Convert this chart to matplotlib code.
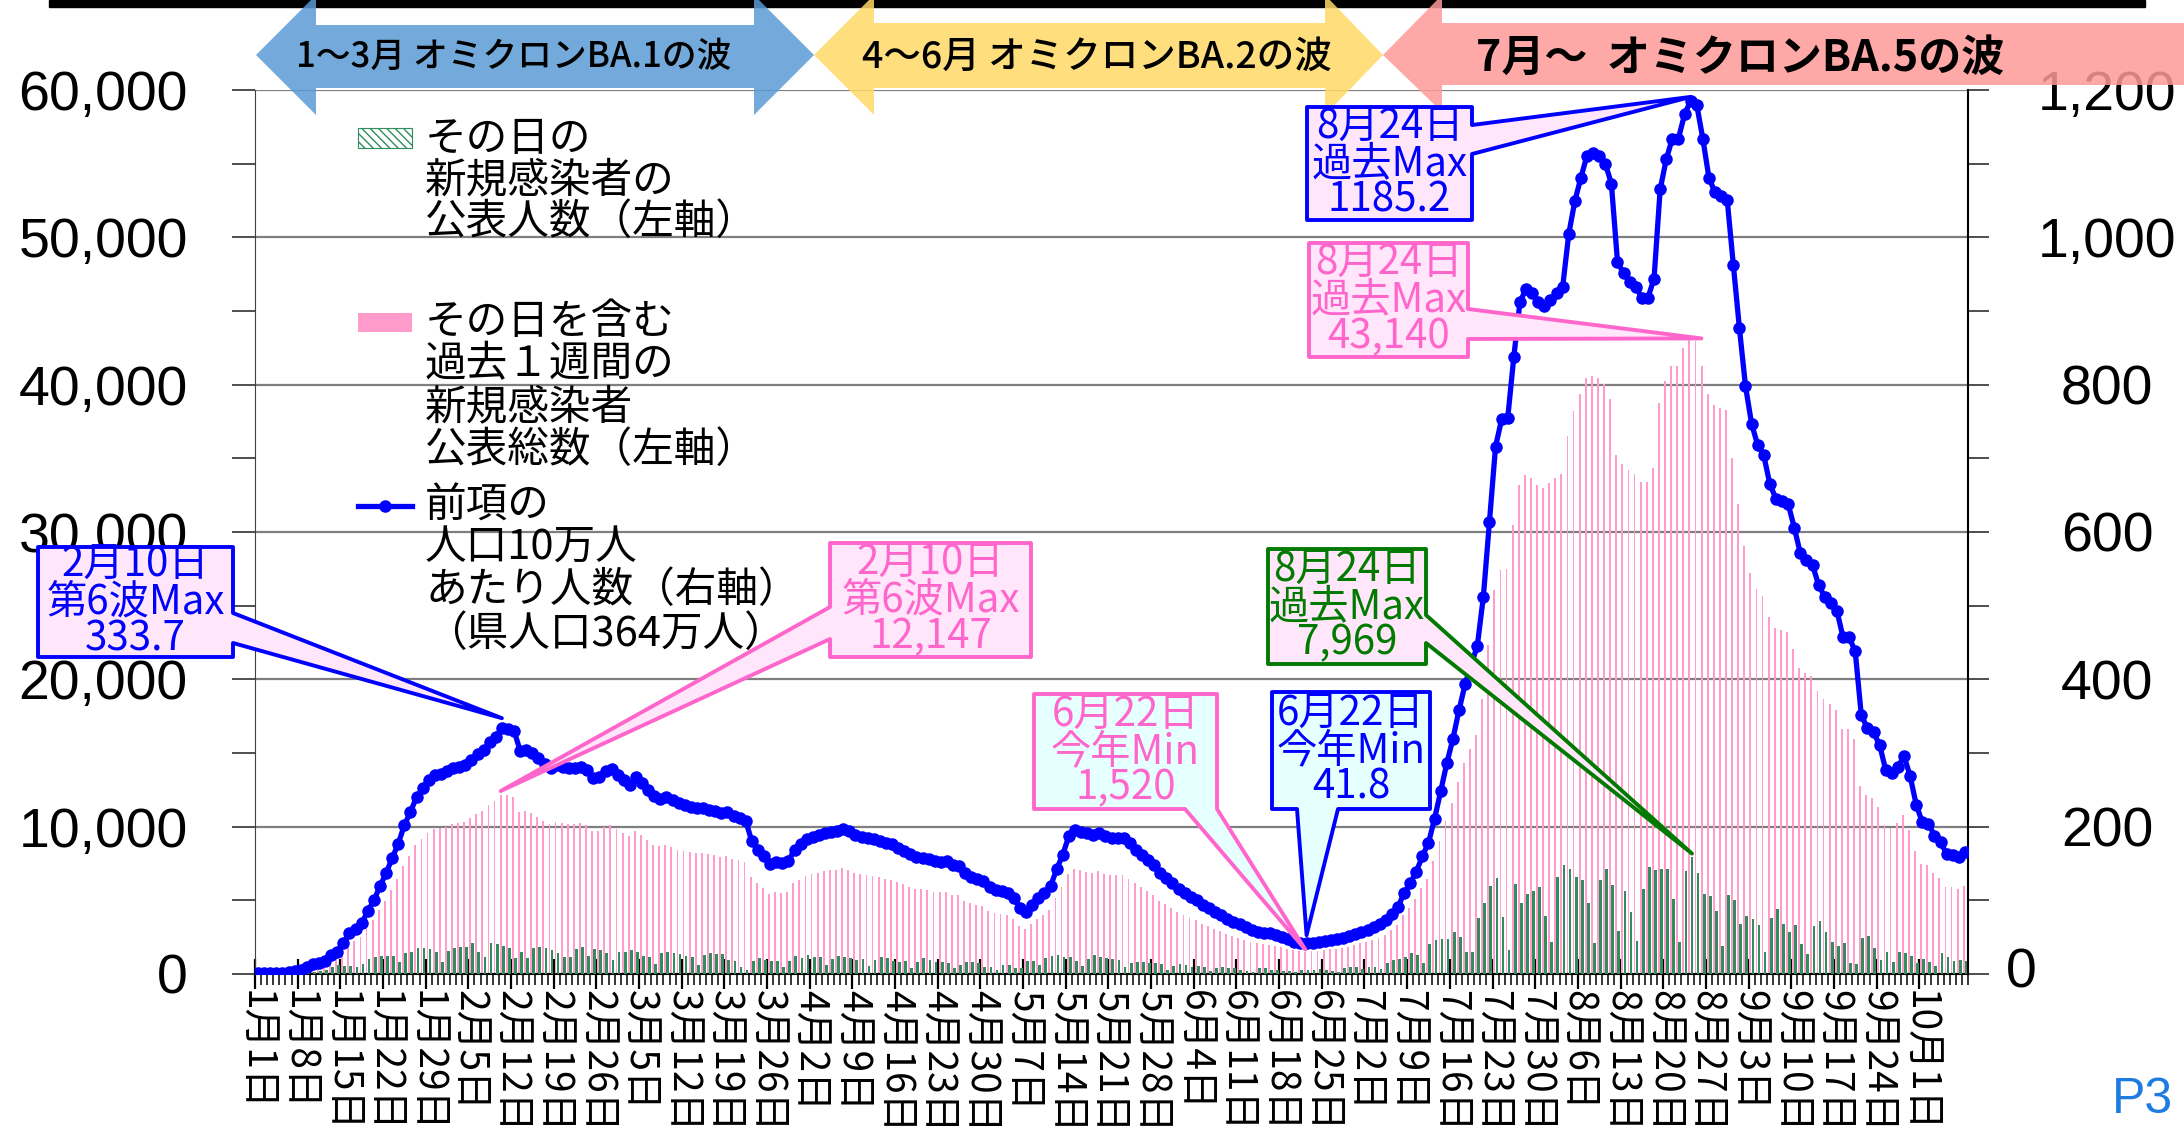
import numpy as np
import matplotlib.pyplot as plt
from matplotlib.patches import Polygon, Rectangle
from matplotlib.lines import Line2D
from matplotlib.transforms import IdentityTransform

plt.rcParams['font.family'] = ['Noto Sans CJK JP', 'DejaVu Sans']

W, H = 2184, 1139

# その日の新規感染者の公表人数 (1/1 .. 10/8, left axis)
daily = [
    40, 50, 60, 40, 60, 80, 100, 90, 120, 160,
    200, 270, 500, 610, 540, 540, 500, 680, 990, 1130,
    1240, 1240, 1240, 840, 1450, 1510, 1740, 1740, 1670, 1470,
    840, 1580, 1740, 1810, 1850, 2120, 1510, 1130, 2120, 2010,
    1900, 1790, 1110, 1510, 1060, 1740, 1810, 1790, 1630, 1400,
    1180, 1130, 1670, 1850, 1240, 1670, 1630, 1400, 950, 1470,
    1490, 1630, 1470, 1240, 1180, 680, 1400, 1510, 1450, 1360,
    1240, 1130, 620, 1300, 1410, 1370, 1370, 980, 910, 460,
    300, 910, 1070, 980, 910, 870, 500, 910, 1210, 1070,
    1300, 1140, 1140, 620, 1030, 1190, 1140, 1090, 980, 1030,
    520, 980, 1140, 1070, 910, 840, 870, 390, 840, 1070,
    980, 800, 840, 730, 390, 640, 800, 800, 730, 460,
    500, 300, 620, 620, 390, 390, 910, 910, 620, 1070,
    1210, 1300, 1140, 1140, 910, 520, 1030, 1300, 1140, 1070,
    1030, 980, 460, 730, 840, 800, 730, 780, 680, 270,
    520, 680, 620, 460, 520, 460, 180, 390, 460, 390,
    390, 300, 180, 110, 390, 390, 300, 300, 230, 230,
    110, 300, 300, 300, 340, 300, 230, 160, 390, 460,
    460, 340, 460, 460, 320, 770, 950, 990, 1130, 1400,
    1290, 720, 2030, 2300, 2350, 2350, 2830, 2530, 1510, 1510,
    3820, 4790, 5970, 6530, 3840, 1630, 6100, 4790, 5420, 5650,
    5880, 3930, 2150, 6600, 7390, 7120, 6600, 6370, 4790, 2080,
    6370, 7160, 6030, 2920, 5630, 4180, 2240, 5760, 7230, 7050,
    7160, 7160, 5090, 2150, 7010, 7969, 6870, 5420, 5290, 4270,
    1920, 5360, 5020, 3370, 3930, 3730, 3320, 1470, 3820, 4410,
    3370, 2830, 3320, 2010, 1330, 3250, 3590, 2830, 2190, 1920,
    2080, 720, 660, 2420, 2580, 1740, 950, 1510, 840, 1470,
    1400, 1220, 720, 1020, 840, 570, 1400, 1130, 900, 930,
    850,
]

# その日を含む過去1週間の公表総数 (left axis)
weekly = [
    36, 36, 36, 73, 73, 109, 146, 218, 364, 510,
    546, 619, 946, 1092, 1529, 2038, 2220, 2512, 3094, 3640,
    4332, 4987, 5715, 6443, 7353, 8008, 8736, 9173, 9573, 9828,
    9901, 10010, 10156, 10228, 10338, 10556, 10884, 11066, 11466, 11721,
    12147, 12121, 12012, 11029, 11066, 10920, 10665, 10374, 10156, 10338,
    10228, 10192, 10192, 10228, 10083, 9682, 9719, 10010, 10119, 9828,
    9573, 9355, 9719, 9428, 9100, 8772, 8663, 8736, 8590, 8445,
    8336, 8263, 8226, 8190, 8117, 8044, 7972, 8008, 7826, 7717,
    7571, 6552, 6152, 5824, 5460, 5533, 5496, 5569, 6152, 6406,
    6661, 6770, 6880, 6989, 7025, 7062, 7171, 7062, 6880, 6770,
    6698, 6661, 6552, 6479, 6406, 6224, 6079, 5933, 5788, 5751,
    5678, 5569, 5533, 5569, 5387, 5351, 4987, 4805, 4696, 4586,
    4295, 4150, 4077, 4004, 3749, 3240, 3058, 3422, 3749, 4004,
    4332, 5169, 5897, 6807, 7134, 7025, 6952, 6880, 6989, 6807,
    6734, 6734, 6698, 6479, 6152, 5897, 5642, 5387, 4987, 4732,
    4477, 4222, 4004, 3822, 3640, 3422, 3240, 3058, 2912, 2730,
    2584, 2475, 2330, 2184, 2075, 2038, 2002, 1929, 1820, 1711,
    1602, 1547, 1520, 1529, 1565, 1638, 1674, 1711, 1784, 1856,
    1966, 2075, 2184, 2330, 2475, 2657, 2985, 3312, 4004, 4477,
    5060, 5824, 6479, 7680, 9027, 10410, 11612, 13031, 14305, 15288,
    16198, 18637, 22350, 26062, 27409, 27482, 30503, 33197, 33852, 33634,
    33197, 33015, 33306, 33634, 33925, 36546, 38184, 39348, 40440, 40586,
    40440, 40040, 39057, 35199, 34616, 34216, 33961, 33415, 33415, 34362,
    38766, 40258, 41278, 41278, 42479, 43140, 42952, 41278, 39348, 38620,
    38438, 38256, 35053, 31923, 29047, 27191, 26135, 25626, 24206, 23478,
    23369, 23223, 22058, 20784, 20457, 20202, 19219, 18637, 18346, 17945,
    16635, 16635, 15943, 12776, 12158, 11939, 11320, 10083, 9937, 10228,
    10774, 9792, 8372, 7498, 7426, 6843, 6516, 5933, 5897, 5788,
    6006,
]

# 人口10万人あたり人数 (right axis)
per100k = [
    1, 1, 1, 2, 2, 3, 4, 6, 10, 14,
    15, 17, 26, 30, 42, 56, 61, 69, 85, 100,
    119, 137, 157, 177, 202, 220, 240, 252, 263, 270,
    272, 275, 279, 281, 284, 290, 299, 304, 315, 322,
    333.7, 333, 330, 303, 304, 300, 293, 285, 279, 284,
    281, 280, 280, 281, 277, 266, 267, 275, 278, 270,
    263, 257, 267, 259, 250, 241, 238, 240, 236, 232,
    229, 227, 226, 225, 223, 221, 219, 220, 215, 212,
    208, 180, 169, 160, 150, 152, 151, 153, 169, 176,
    183, 186, 189, 192, 193, 194, 197, 194, 189, 186,
    184, 183, 180, 178, 176, 171, 167, 163, 159, 158,
    156, 153, 152, 153, 148, 147, 137, 132, 129, 126,
    118, 114, 112, 110, 103, 89, 84, 94, 103, 110,
    119, 142, 162, 187, 196, 193, 191, 189, 192, 187,
    185, 185, 184, 178, 169, 162, 155, 148, 137, 130,
    123, 116, 110, 105, 100, 94, 89, 84, 80, 75,
    71, 68, 64, 60, 57, 56, 55, 53, 50, 47,
    44, 42.5, 41.8, 42, 43, 45, 46, 47, 49, 51,
    54, 57, 60, 64, 68, 73, 82, 91, 110, 123,
    139, 160, 178, 211, 248, 286, 319, 358, 393, 420,
    445, 512, 614, 716, 753, 755, 838, 912, 930, 924,
    912, 907, 915, 924, 932, 1004, 1049, 1081, 1111, 1115,
    1111, 1100, 1073, 967, 951, 940, 933, 918, 918, 944,
    1065, 1106, 1134, 1134, 1167, 1185.2, 1180, 1134, 1081, 1061,
    1056, 1051, 963, 877, 798, 747, 718, 704, 665, 645,
    642, 638, 606, 571, 562, 555, 528, 512, 504, 493,
    457, 457, 438, 351, 334, 328, 311, 277, 273, 281,
    296, 269, 230, 206, 204, 188, 179, 163, 162, 159,
    165,
]

xlabels = ['1月1日', '1月8日', '1月15日', '1月22日', '1月29日', '2月5日', '2月12日',
           '2月19日', '2月26日', '3月5日', '3月12日', '3月19日', '3月26日', '4月2日',
           '4月9日', '4月16日', '4月23日', '4月30日', '5月7日', '5月14日', '5月21日',
           '5月28日', '6月4日', '6月11日', '6月18日', '6月25日', '7月2日', '7月9日',
           '7月16日', '7月23日', '7月30日', '8月6日', '8月13日', '8月20日', '8月27日',
           '9月3日', '9月10日', '9月17日', '9月24日', '10月1日']

BLUE = '#0000ff'
PINK = '#ff66cc'
GREEN = '#007a00'
BAR_PINK = '#ff9ccc'
BAR_GREEN = '#2e8f5c'
FACE_PINK = '#ffe6fa'
FACE_CYAN = '#e6ffff'

days = np.arange(len(per100k))

fig = plt.figure(figsize=(W / 100, H / 100), dpi=100)
ax = fig.add_axes([255 / W, 1 - 974 / H, 1713 / W, 884 / H])
ax2 = ax.twinx()

ax.bar(days - 0.2, weekly, width=0.3, color=BAR_PINK, zorder=2)
ax.bar(days + 0.22, daily, width=0.45, color=BAR_GREEN, zorder=3)
ax2.plot(days, per100k, color=BLUE, lw=3.8, marker='o', ms=8, zorder=4)

ax.set_xlim(-0.5, len(days) - 0.5)
ax.set_ylim(0, 60000)
ax2.set_ylim(0, 1200)

# left axis
ax.set_yticks(range(0, 60001, 10000))
ax.set_yticklabels([f'{v:,}' for v in range(0, 60001, 10000)])
ax.set_yticks(range(5000, 60000, 10000), minor=True)
ax.yaxis.grid(True, which='major', color='#7f7f7f', lw=1.6)
ax.set_axisbelow(True)
ax.tick_params(axis='y', which='both', direction='out', length=16.5, width=1.3,
               color='#404040', pad=32, labelsize=40, labelfontfamily='Liberation Sans')

# right axis
ax2.set_yticks(range(0, 1201, 200))
ax2.set_yticklabels([''] + [f'{v:,}' for v in range(200, 1201, 200)])
ax2.set_yticks(range(100, 1200, 200), minor=True)
ax2.tick_params(axis='y', which='both', direction='out', length=15, width=1.3,
                color='#404040', pad=85, labelsize=40, labelfontfamily='Liberation Sans')
plt.setp(ax2.get_yticklabels(), ha='center')
fig.text(2006 / W, 1 - 974 / H, '0', ha='left', va='center', fontsize=40,
         family='Liberation Sans')

# x axis: weekly labels, daily ticks
ax.set_xticks([7 * i - 0.5 for i in range(len(xlabels))])
ax.set_xticklabels(xlabels)
ax.set_xticks(np.arange(len(days) + 1) - 0.5, minor=True)
ax.tick_params(axis='x', which='major', direction='inout', length=21, width=1.6,
               color='black', labelsize=28, labelrotation=-90, pad=1)
ax.tick_params(axis='x', which='minor', direction='out', length=8, width=1.1, color='black')

for a in (ax, ax2):
    a.spines['top'].set_visible(False)
ax.spines['right'].set_visible(False)
ax.spines['left'].set_color('#404040')
ax.spines['bottom'].set_color('black')
ax.spines['bottom'].set_linewidth(1.5)
ax2.spines['right'].set_color('black')
ax2.spines['right'].set_linewidth(1.5)
ax2.spines['left'].set_visible(False)
ax2.spines['bottom'].set_visible(False)

ident = IdentityTransform()


def poly(pts, **kw):
    p = Polygon([(x, H - y) for x, y in pts], closed=True, transform=ident, **kw)
    fig.add_artist(p)


# top black bar and wave banners
fig.add_artist(Rectangle((49, H - 7), 2096, 7, transform=ident, color='black', zorder=4))
poly([(256, 55), (316, -5), (316, 25), (754, 25), (754, -5), (814, 55), (754, 115),
      (754, 88), (316, 88), (316, 115)], facecolor='#5b9bd5', alpha=0.85, lw=0, zorder=5)
poly([(814, 55), (874, -5), (874, 23), (1325, 23), (1325, -5), (1383, 55), (1325, 115),
      (1325, 88), (874, 88), (874, 115)], facecolor='#ffd966', alpha=0.85, lw=0, zorder=5)
poly([(1383, 55), (1442, -5), (1442, 23), (2190, 23), (2190, 85), (1442, 85), (1442, 112)],
     facecolor='#ff9999', alpha=0.85, lw=0, zorder=5)
fig.text(514 / W, 1 - 57 / H, '1～3月 オミクロンBA.1の波', ha='center', va='center',
         fontsize=25, fontweight='medium', zorder=6)
fig.text(1097 / W, 1 - 57 / H, '4～6月 オミクロンBA.2の波', ha='center', va='center',
         fontsize=27, fontweight='medium', zorder=6)
fig.text(1740 / W, 1 - 58 / H, '7月～  オミクロンBA.5の波', ha='center', va='center',
         fontsize=31, fontweight='bold', zorder=6)

# legend
fig.add_artist(Rectangle((358, H - 148), 54, 20, transform=ident, facecolor='white',
                         edgecolor=BAR_GREEN, hatch='\\\\\\\\', lw=0.8, zorder=5))
fig.add_artist(Rectangle((358, H - 332), 54, 19, transform=ident, facecolor=BAR_PINK,
                         lw=0, zorder=5))
fig.add_artist(Line2D([358, 385, 412], [H - 506] * 3, transform=ident, color=BLUE, lw=3.8,
                      marker='o', ms=8, markevery=[1], zorder=5))
legend_lines = [
    ('その日の', 139), ('新規感染者の', 181), ('公表人数（左軸）', 223),
    ('その日を含む', 323), ('過去１週間の', 365), ('新規感染者', 408), ('公表総数（左軸）', 450),
    ('前項の', 506), ('人口10万人', 548), ('あたり人数（右軸）', 591), ('（県人口364万人）', 634),
]
for txt, y in legend_lines:
    fig.text(425 / W, 1 - y / H, txt, ha='left', va='center', fontsize=30, zorder=5)


def tip_of(axis, x, y, dx=0, dy=0):
    X, Y = axis.transData.transform((x, y))
    return X + dx, H - Y - dy


def callout(box, side, a, b, tip, text, edge, face):
    L, T, R, B = box
    tx, ty = tip
    pts = [(L, T), (R, T)]
    if side == 'right':
        pts += [(R, a), (tx, ty), (R, b)]
    pts += [(R, B)]
    if side == 'bottom':
        pts += [(b, B), (tx, ty), (a, B)]
    pts += [(L, B)]
    if side == 'left':
        pts += [(L, b), (tx, ty), (L, a)]
    poly(pts, facecolor=face, edgecolor=edge, lw=2.8, joinstyle='round', zorder=7)
    fig.text((L + R) / 2 / W, 1 - (T + B) / 2 / H, text, ha='center', va='center',
             fontsize=29, color=edge, linespacing=0.86, zorder=8)


callout((38, 547, 233, 657), 'right', 613, 643, tip_of(ax2, 40, per100k[40], dy=10),
        f'2月10日\n第6波Max\n{per100k[40]:.1f}', BLUE, FACE_PINK)
callout((830, 543, 1031, 657), 'left', 607, 639, tip_of(ax, 40 - 0.2, weekly[40], dy=4),
        f'2月10日\n第6波Max\n{weekly[40]:,}', PINK, FACE_PINK)
callout((1034, 694, 1217, 809), 'bottom', 1185, 1217, tip_of(ax, 172 - 0.2, weekly[172], dy=2),
        f'6月22日\n今年Min\n{weekly[172]:,}', PINK, FACE_CYAN)
callout((1272, 692, 1430, 809), 'bottom', 1297, 1338, tip_of(ax2, 172, per100k[172], dy=8),
        f'6月22日\n今年Min\n{per100k[172]:.1f}', BLUE, FACE_CYAN)
callout((1268, 549, 1426, 664), 'right', 615, 643, tip_of(ax, 235 + 0.22, daily[235], dy=3),
        f'8月24日\n過去Max\n{daily[235]:,}', GREEN, FACE_PINK)
callout((1307, 107, 1472, 220), 'right', 125, 154, tip_of(ax2, 235, per100k[235], dy=4),
        f'8月24日\n過去Max\n{per100k[235]:.1f}', BLUE, FACE_PINK)
callout((1309, 243, 1468, 357), 'right', 309, 339, tip_of(ax, 235 - 0.2, weekly[235], dx=12),
        f'8月24日\n過去Max\n{weekly[235]:,}', PINK, FACE_PINK)

fig.text(2143 / W, 1 - 1100 / H, 'P3', ha='center', va='center', fontsize=36,
         color='#1f7be0', family='Liberation Sans')

fig.savefig('out.png', dpi=100)
